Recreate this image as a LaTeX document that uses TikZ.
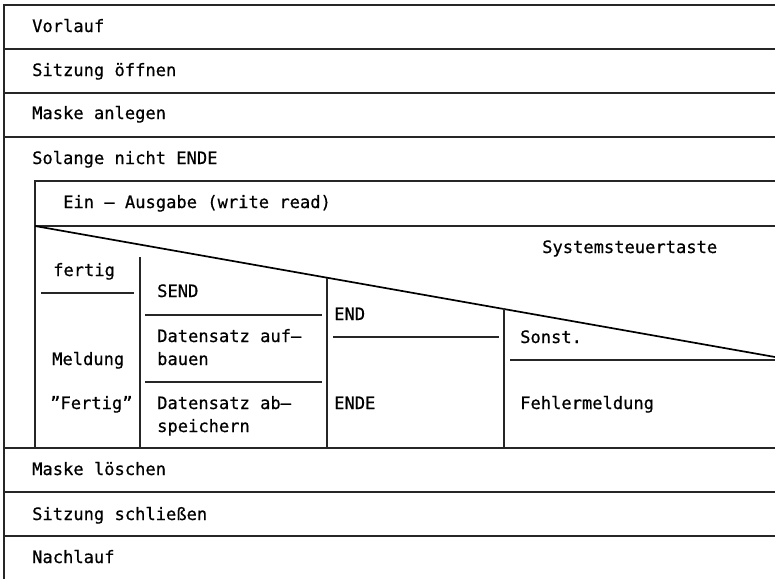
\documentclass[tikz,border=0pt]{standalone}
\usepackage{fontspec}
\setmainfont[FakeBold=0.6]{DejaVu Sans Mono}
\begin{document}
\begin{tikzpicture}[x=1pt,y=-1pt,
  rule/.style={line width=1.1pt,color=black!85},
  diag/.style={line width=1.7pt,color=black},
  lbl/.style={anchor=base west,inner sep=0pt,font=\fontsize{17.1}{20}\selectfont}]
\useasboundingbox (0,0) rectangle (775,579);

% outer frame of the structogram (open on the right)
\draw[rule] (775,5) -- (4,5) -- (4,579);
\foreach \y in {49,93,137,448,492,536}
  \draw[rule] (4,\y) -- (775,\y);

% sequential blocks
\node[lbl] (vorlauf) at (32,32)  {Vorlauf};
\node[lbl] (oeffnen) at (32,76)  {Sitzung öffnen};
\node[lbl] (anlegen) at (32,119) {Maske anlegen};
\node[lbl] (solange) at (32,164) {Solange nicht ENDE};
\node[lbl] (loeschen) at (32,475) {Maske löschen};
\node[lbl] (schliessen) at (32,520) {Sitzung schließen};
\node[lbl] (nachlauf) at (32,563) {Nachlauf};

% loop body
\draw[rule] (775,181) -- (35,181) -- (35,448);
\draw[rule] (35,226) -- (775,226);
\node[lbl] (eaus) at (63,208) {Ein – Ausgabe (write read)};

% case selector
\draw[diag] (35,226) -- (775,357);
\node[lbl] (taste) at (542,253) {Systemsteuertaste};

% case columns
\draw[rule] (140,257) -- (140,448);
\draw[rule] (327,278) -- (327,448);
\draw[rule] (504,308) -- (504,448);

% column: fertig
\node[lbl] (fertig) at (53,276) {fertig};
\draw[rule] (41,293) -- (134,293);
\node[lbl] (meldung) at (52,365) {Meldung};
\node[lbl] (fertigq) at (50,409) {"Fertig"};

% column: SEND
\node[lbl] (send) at (157,297) {SEND};
\draw[rule] (145,315) -- (322,315);
\node[lbl] (aufbau1) at (157,342) {Datensatz auf–};
\node[lbl] (aufbau2) at (157,365) {bauen};
\draw[rule] (145,382) -- (322,382);
\node[lbl] (speich1) at (157,409) {Datensatz ab–};
\node[lbl] (speich2) at (157,432) {speichern};

% column: END
\node[lbl] (endk) at (334,320) {END};
\draw[rule] (333,337) -- (499,337);
\node[lbl] (ende) at (334,409) {ENDE};

% column: sonstige
\node[lbl] (sonst) at (520,343) {Sonst.};
\draw[rule] (510,360) -- (775,360);
\node[lbl] (fehler) at (520,409) {Fehlermeldung};
\end{tikzpicture}
\end{document}
